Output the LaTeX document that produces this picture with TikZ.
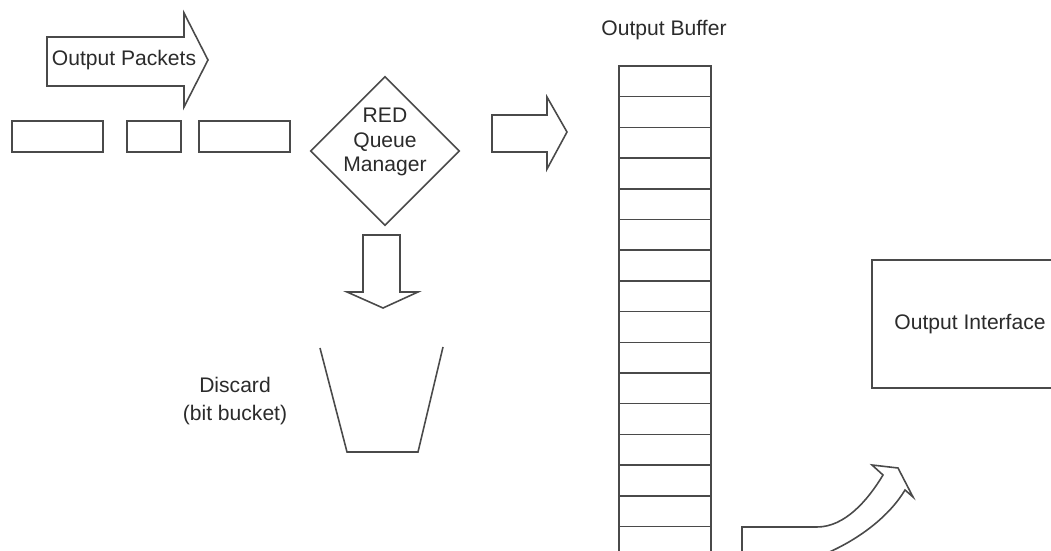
\documentclass[tikz,border=0pt]{standalone}
\usepackage{fontspec}
\setmainfont{Liberation Sans}
\usetikzlibrary{shapes.geometric, positioning, calc}
\definecolor{outline} {HTML}{4A4A4A}
\definecolor{lettering}{HTML}{2B2B2B}

\begin{document}
\begin{tikzpicture}[
    shape line/.style={draw=outline, line width=0.9pt, line join=miter},
    packet/.style={shape line, minimum height=0.62cm, inner sep=0pt},
    caption/.style={text=lettering, font=\fontsize{12}{14}\selectfont, inner sep=0pt}
  ]
    \useasboundingbox (0, 0) rectangle (21.02, 11.0);
    \clip (0, 0) rectangle (21.02, 11.0);

    % incoming packets
    \draw[shape line] (0.94, 10.26) -- (3.68, 10.26) -- (3.68, 10.74) -- (4.16, 9.80)
      -- (3.68, 8.86) -- (3.68, 9.28) -- (0.94, 9.28) -- cycle;
    \node[caption] (pktlabel) at (2.48, 9.80) {Output Packets};
    \node[packet, minimum width=1.82cm] (pkt1) at (1.15, 8.27) {};
    \node[packet, minimum width=1.08cm] (pkt2) at (3.08, 8.27) {};
    \node[packet, minimum width=1.82cm] (pkt3) at (4.89, 8.27) {};

    % queue manager
    \node[diamond, shape line, minimum size=2.98cm, inner sep=0pt] (red) at (7.70, 7.98) {};
    \node[caption, align=center] (redlabel) at ([yshift=0.18cm]red.center)
      {RED\\Queue\\Manager};

    % to the buffer
    \draw[shape line] (9.84, 8.70) -- (10.94, 8.70) -- (10.94, 9.06) -- (11.34, 8.36)
      -- (10.94, 7.62) -- (10.94, 7.96) -- (9.84, 7.96) -- cycle;

    % to the bucket
    \draw[shape line] (7.26, 6.30) -- (8.00, 6.30) -- (8.00, 5.16) -- (8.36, 5.16)
      -- (7.66, 4.84) -- (6.94, 5.16) -- (7.26, 5.16) -- cycle;
    \draw[shape line] (6.40, 4.04) -- (6.94, 1.96) -- (8.36, 1.96) -- (8.86, 4.06);
    \node[caption, align=center] (discard) at (4.70, 2.98) {Discard\\[2pt](bit bucket)};

    % output buffer
    \node[caption] (buflabel) at (13.28, 10.40) {Output Buffer};
    \draw[shape line] (12.38, -0.2) |- (14.22, 9.68) -- (14.22, -0.2);
    \foreach \k in {1,...,15}
      \draw[shape line] (12.38, {9.68-0.614*\k}) -- (14.22, {9.68-0.614*\k});

    % interface
    \node[shape line, minimum width=3.92cm, minimum height=2.56cm, inner sep=0pt] (oif)
      at (19.40, 4.52) {};
    \node[caption] (oiflabel) at (oif.center) {Output Interface};

    % curved arrow up to the interface
    \draw[shape line] (14.84, -0.2) -- (14.84, 0.46) -- (16.34, 0.46)
      .. controls (16.90, 0.46) and (17.36, 1.00) .. (17.66, 1.50)
      -- (17.44, 1.70) -- (17.96, 1.64) -- (18.26, 1.06) -- (18.10, 1.20)
      .. controls (17.80, 0.70) and (17.20, 0.20) .. (16.40, -0.12);
  \end{tikzpicture}
\end{document}
